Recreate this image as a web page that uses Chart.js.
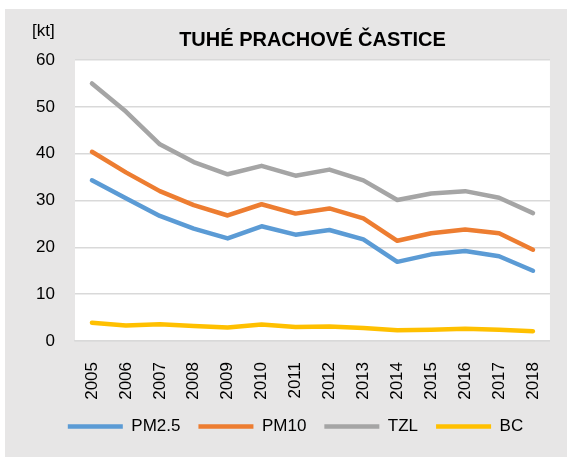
<!DOCTYPE html>
<html>
<head>
<meta charset="utf-8">
<script src="https://cdn.jsdelivr.net/npm/chart.js@4/dist/chart.umd.min.js"></script>
<style>
  html, body { margin: 0; padding: 0; background: #ffffff; }
  canvas { display: block; }
</style>
</head>
<body>
<canvas id="chart" width="567" height="457"></canvas>
<script>
// data
const years = ['2005', '2006', '2007', '2008', '2009', '2010', '2011', '2012', '2013', '2014', '2015', '2016', '2017', '2018'];
const pm25 = [34.3, 30.5, 26.7, 24.0, 21.9, 24.5, 22.7, 23.7, 21.7, 16.9, 18.5, 19.2, 18.1, 15.0];
const pm10 = [40.4, 36.0, 32.0, 29.0, 26.8, 29.2, 27.2, 28.3, 26.2, 21.4, 23.0, 23.8, 23.0, 19.5];
const tzl  = [55.0, 49.0, 42.0, 38.2, 35.6, 37.4, 35.3, 36.6, 34.3, 30.1, 31.5, 32.0, 30.6, 27.3];
const bc   = [3.9, 3.3, 3.6, 3.2, 2.9, 3.5, 3.0, 3.1, 2.8, 2.3, 2.4, 2.6, 2.4, 2.1];
const yTicks = [0, 10, 20, 30, 40, 50, 60];

const FONT = '"Liberation Sans", Arial, sans-serif';

function line(label, data, color) {
    return {
        label: label,
        data: data,
        borderColor: color,
        backgroundColor: color,
        borderWidth: 4.5,
        borderCapStyle: 'round',
        borderJoinStyle: 'round',
        pointRadius: 0,
        tension: 0,
        fill: false
    };
}

// gray panel, white plot area and the unit label
const background = {
    id: 'background',
    beforeDraw(chart) {
        const { ctx, chartArea: a } = chart;
        ctx.save();
        ctx.fillStyle = '#e7e6e6';
        ctx.fillRect(5, 9, chart.width - 5, chart.height - 9);
        ctx.fillStyle = '#ffffff';
        ctx.fillRect(a.left, a.top, a.right - a.left, a.bottom - a.top);
        ctx.fillStyle = '#000000';
        ctx.font = '17px ' + FONT;
        ctx.textAlign = 'left';
        ctx.textBaseline = 'middle';
        ctx.fillText('[kt]', 32, 31);
        ctx.restore();
    }
};

new Chart(document.getElementById('chart'), {
    type: 'line',
    data: {
        labels: years,
        datasets: [
            line('PM2.5', pm25, '#5b9bd5'),
            line('PM10', pm10, '#ed7d31'),
            line('TZL', tzl, '#a5a5a5'),
            line('BC', bc, '#ffc000')
        ]
    },
    options: {
        responsive: false,
        animation: false,
        layout: { padding: { left: 33, right: 9, top: 0, bottom: 12 } },
        plugins: {
            title: {
                display: true,
                fullSize: false,
                text: 'TUHÉ PRACHOVÉ ČASTICE',
                color: '#000000',
                font: { family: FONT, size: 20, weight: 'bold', lineHeight: 1.2 },
                padding: { top: 28, bottom: 8 }
            },
            legend: {
                position: 'bottom',
                labels: {
                    color: '#000000',
                    font: { family: FONT, size: 17 },
                    usePointStyle: true,
                    pointStyle: 'line',
                    pointStyleWidth: 55,
                    padding: 18
                }
            },
            tooltip: { enabled: false }
        },
        scales: {
            x: {
                offset: true,
                grid: { display: false },
                border: { color: '#d9d9d9', width: 1.5 },
                ticks: {
                    color: '#000000',
                    font: { family: FONT, size: 17 },
                    minRotation: 90,
                    maxRotation: 90,
                    padding: 13
                },
                afterFit: s => { s.height = 59; }
            },
            y: {
                min: 0,
                max: 60,
                afterBuildTicks: s => { s.ticks = yTicks.map(v => ({ value: v })); },
                grid: { color: '#d9d9d9', lineWidth: 1.5, drawTicks: false },
                border: { display: false },
                ticks: {
                    color: '#000000',
                    font: { family: FONT, size: 17 },
                    padding: 20
                },
                afterFit: s => { s.width = 42; }
            }
        }
    },
    plugins: [background]
});
</script>
</body>
</html>
